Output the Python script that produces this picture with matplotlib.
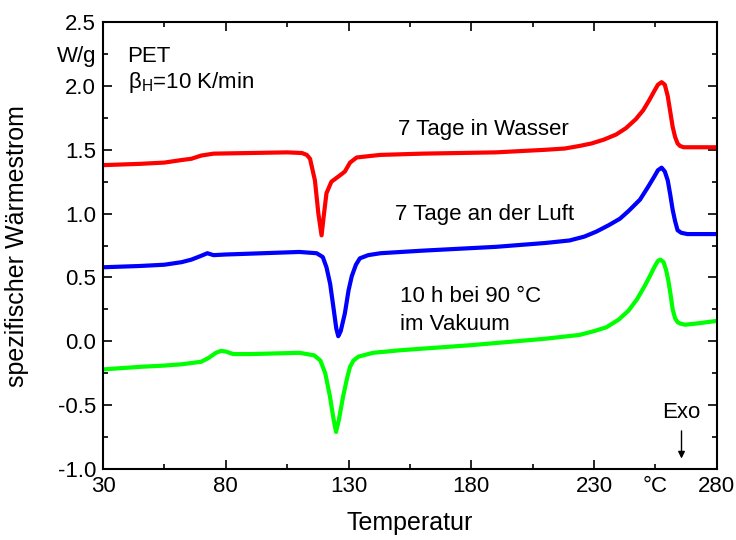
import matplotlib
matplotlib.use('Agg')
import matplotlib.pyplot as plt
from matplotlib.ticker import FixedLocator, FixedFormatter

plt.rcParams['font.family'] = ['Liberation Sans', 'DejaVu Sans']
plt.rcParams['mathtext.fontset'] = 'custom'
plt.rcParams['mathtext.rm'] = 'Liberation Sans'

# DSC curves of PET
t_wasser = [30, 45, 55, 62, 66, 70, 75, 90, 105, 111, 113, 114.3, 116.3, 117.7, 119, 120, 121, 123,
            126.5, 128.5, 130.6, 133.3, 142.8, 160, 190, 210, 218, 224, 229, 234, 239, 243, 247, 250,
            252.5, 254.5, 256, 257.5, 258.8, 260, 261, 262, 263, 264, 265, 266.5, 270, 280]
q_wasser = [1.38, 1.39, 1.40, 1.42, 1.43, 1.455, 1.47, 1.475, 1.48, 1.475, 1.46, 1.43, 1.26, 1.0, 0.83,
            1.0, 1.16, 1.25, 1.30, 1.33, 1.40, 1.44, 1.46, 1.47, 1.48, 1.50, 1.51, 1.53, 1.55, 1.58,
            1.62, 1.67, 1.74, 1.81, 1.89, 1.96, 2.01, 2.03, 2.01, 1.92, 1.80, 1.68, 1.60, 1.55, 1.53,
            1.52, 1.52, 1.52]

t_luft = [30, 45, 55, 62, 66, 70, 72.5, 75, 80, 95, 110, 117, 119.5, 121, 122.5, 123.8, 125, 125.8,
          126.8, 128.5, 130, 131.3, 133, 134.6, 138, 143, 160, 190, 210, 220, 226, 231, 236, 240.5,
          244, 248.7, 252, 254.5, 256, 257.5, 258.8, 260, 261, 262, 263, 264, 265.5, 268, 280]
q_luft = [0.58, 0.59, 0.60, 0.62, 0.64, 0.67, 0.69, 0.675, 0.68, 0.69, 0.70, 0.69, 0.66, 0.58, 0.45,
          0.27, 0.10, 0.04, 0.08, 0.22, 0.40, 0.51, 0.60, 0.65, 0.675, 0.69, 0.71, 0.74, 0.77, 0.79,
          0.82, 0.86, 0.91, 0.96, 1.02, 1.11, 1.21, 1.29, 1.34, 1.36, 1.33, 1.26, 1.15, 1.03, 0.94,
          0.87, 0.85, 0.84, 0.84]

t_vakuum = [30, 45, 55, 62, 70, 73, 76, 78, 80, 83, 90, 110, 116, 118.5, 120.5, 122.4, 123.8, 124.9,
            126, 127.8, 129.5, 130.6, 132, 134, 140, 151, 180, 210, 224, 230, 235, 240, 244, 247.5,
            250.5, 252.7, 254.5, 256, 257, 258.3, 259.3, 260.2, 261.2, 262, 263, 264, 265, 267, 272, 280]
q_vakuum = [-0.22, -0.20, -0.19, -0.18, -0.16, -0.13, -0.09, -0.075, -0.08, -0.10, -0.10, -0.09,
            -0.11, -0.15, -0.25, -0.43, -0.60, -0.71, -0.62, -0.43, -0.28, -0.20, -0.15, -0.12,
            -0.09, -0.07, -0.03, 0.02, 0.05, 0.08, 0.11, 0.17, 0.24, 0.33, 0.43, 0.51, 0.58, 0.63,
            0.64, 0.62, 0.56, 0.48, 0.36, 0.25, 0.18, 0.15, 0.14, 0.13, 0.14, 0.16]

x_major = [30, 80, 130, 180, 230, 280]
x_minor = [55, 105, 155, 205, 255]
x_minor_labels = ['', '', '', '', '°C']
y_major = [-1.0, -0.5, 0.0, 0.5, 1.0, 1.5, 2.0, 2.5]
y_minor = [-0.75, -0.25, 0.25, 0.75, 1.25, 1.75, 2.25]
y_minor_labels = ['', '', '', '', '', '', 'W/g']

fig = plt.figure(figsize=(7.36, 5.40), dpi=100)
ax = fig.add_axes([0.140, 0.1315, 0.834, 0.8275])

ax.plot(t_wasser, q_wasser, color='#ff0000', lw=3)
ax.plot(t_luft, q_luft, color='#0000ff', lw=3)
ax.plot(t_vakuum, q_vakuum, color='#00ff00', lw=3)

ax.set_xlim(30, 280)
ax.set_ylim(-1.0, 2.5)
ax.set_xticks(x_major)
ax.set_yticks(y_major)
ax.set_yticklabels(['%.1f' % v for v in y_major])
ax.xaxis.set_minor_locator(FixedLocator(x_minor))
ax.xaxis.set_minor_formatter(FixedFormatter(x_minor_labels))
ax.yaxis.set_minor_locator(FixedLocator(y_minor))
ax.yaxis.set_minor_formatter(FixedFormatter(y_minor_labels))

ax.tick_params(which='both', direction='in', top=True, right=True, width=1.2, labelsize=16)
ax.tick_params(which='major', length=6.5)
ax.tick_params(which='minor', length=3.5)
ax.tick_params(axis='x', which='both', pad=5)
ax.tick_params(axis='y', which='both', pad=5)
for s in ax.spines.values():
    s.set_linewidth(1.5)

ax.set_xlabel('Temperatur', fontsize=18)
ax.set_ylabel('spezifischer Wärmestrom', fontsize=18)
ax.xaxis.set_label_coords(0.5, -0.094)
ax.yaxis.set_label_coords(-0.12, 0.5)

ax.text(40, 2.23, 'PET', fontsize=16, va='center')
ax.text(40, 2.03, 'β$_\\mathrm{H}$=10 K/min', fontsize=16, va='center')
ax.text(185, 1.66, '7 Tage in Wasser', fontsize=16, ha='center', va='center')
ax.text(185.5, 0.99, '7 Tage an der Luft', fontsize=16, ha='center', va='center')
ax.text(151, 0.35, '10 h bei 90 °C', fontsize=16, va='center')
ax.text(151, 0.135, 'im Vakuum', fontsize=16, va='center')
ax.text(265.5, -0.56, 'Exo', fontsize=16, ha='center', va='center')
ax.annotate('', xy=(265.6, -0.94), xytext=(265.6, -0.68),
            arrowprops=dict(arrowstyle='-|>', color='black', lw=1, mutation_scale=10))

fig.savefig('out.png', dpi=100)
